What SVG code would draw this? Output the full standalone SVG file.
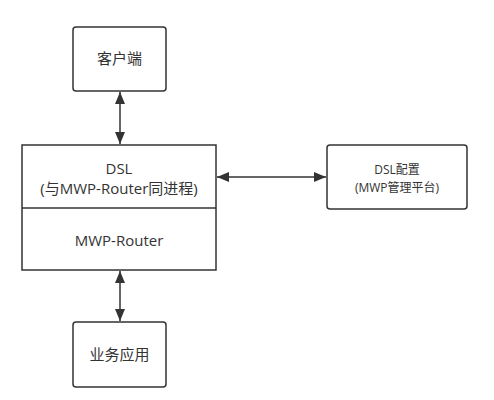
<svg xmlns="http://www.w3.org/2000/svg" width="494" height="400" viewBox="0 0 494 400">
<style>
.box{fill:#fff;stroke:#333;stroke-width:1.5}
.t{font-family:"Open Sans","Noto Sans CJK SC",sans-serif;font-size:15px;fill:#333;text-anchor:middle}
.s{font-size:12px}
.c{stroke:#333;stroke-width:1.5;fill:none}
</style>
<defs>
<marker id="a" viewBox="0 0 12 10" refX="12" refY="5" markerWidth="12" markerHeight="10" markerUnits="userSpaceOnUse" orient="auto-start-reverse">
<path d="M0,0 L12,5 L0,10 Z" fill="#333"/>
</marker>
</defs>
<rect width="494" height="400" fill="#fff"/>
<g id="connectors">
<line class="c" x1="120" y1="92" x2="120" y2="144" marker-start="url(#a)" marker-end="url(#a)"/>
<line class="c" x1="120" y1="271" x2="120" y2="321" marker-start="url(#a)" marker-end="url(#a)"/>
<line class="c" x1="217" y1="177" x2="326" y2="177" marker-start="url(#a)" marker-end="url(#a)"/>
</g>
<g id="client">
<rect class="box" x="73" y="27" width="93" height="64" rx="3"/>
<text class="t" x="119.5" y="64">客户端</text>
</g>
<g id="dsl-router">
<rect class="box" x="22" y="145" width="194" height="125"/>
<line class="c" x1="22" y1="208" x2="216" y2="208"/>
<text class="t" x="119" y="174">DSL</text>
<text class="t" x="119" y="194">(与MWP-Router同进程)</text>
<text class="t" x="119" y="246">MWP-Router</text>
</g>
<g id="dsl-config">
<rect class="box" x="327" y="145" width="140" height="64" rx="3"/>
<text class="t s" x="397" y="174">DSL配置</text>
<text class="t s" x="397" y="192">(MWP管理平台)</text>
</g>
<g id="business">
<rect class="box" x="73" y="322" width="93" height="65" rx="3"/>
<text class="t" x="119.5" y="360">业务应用</text>
</g>
</svg>
